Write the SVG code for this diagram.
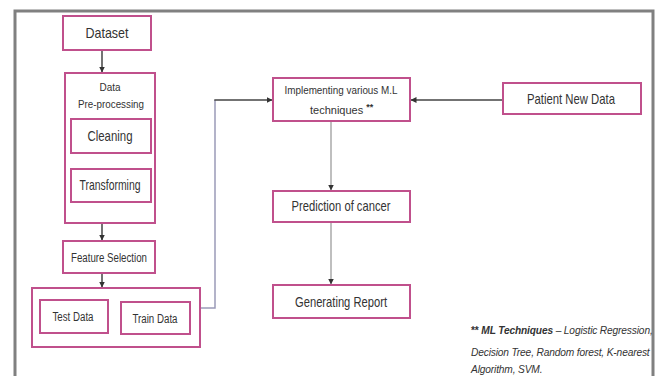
<svg xmlns="http://www.w3.org/2000/svg" width="659" height="376" viewBox="0 0 659 376">
<defs>
<marker id="ah" viewBox="0 0 6 6" refX="5.5" refY="3" markerWidth="4" markerHeight="4" orient="auto">
<path d="M0,0 L6,3 L0,6 z" fill="#333"/>
</marker>
<style>
.box{fill:#fff;stroke:#c0508c;stroke-width:2}
.t{font-family:"Liberation Sans",Arial,sans-serif;fill:#333;text-anchor:middle}
.c{fill:none;stroke-width:1.5;marker-end:url(#ah)}
.fn{font-family:"Liberation Sans",Arial,sans-serif;fill:#333;font-size:10.2px;font-style:italic;letter-spacing:-0.15px}
</style>
</defs>
<rect width="659" height="376" fill="#fff"/>
<path d="M15,376 V11 H653 V376" fill="none" stroke="#808080" stroke-width="3"/>
<g id="connectors">
<path class="c" d="M102,50 V72" stroke="#444"/>
<path class="c" d="M102,223 V240" stroke="#444"/>
<path class="c" d="M102,273 V287" stroke="#444"/>
<path d="M200,308 H215 V100" fill="none" stroke="#9a9ab8" stroke-width="1.5"/>
<path class="c" d="M214.3,100 H272" stroke="#444"/>
<path class="c" d="M503,100 H411" stroke="#444"/>
<path class="c" d="M331,121 V190" stroke="#aaa" stroke-width="2"/>
<path class="c" d="M331,222 V284" stroke="#aaa" stroke-width="2"/>
</g>
<g id="dataset">
<rect class="box" x="63" y="16" width="88" height="34"/>
<text class="t" x="107" y="38" font-size="15" textLength="43" lengthAdjust="spacingAndGlyphs">Dataset</text>
</g>
<g id="preprocessing">
<rect class="box" x="65" y="73" width="90" height="150"/>
<text class="t" x="110" y="91" font-size="11" textLength="21" lengthAdjust="spacingAndGlyphs">Data</text>
<text class="t" x="111" y="108" font-size="11" textLength="66" lengthAdjust="spacingAndGlyphs">Pre-processing</text>
</g>
<g id="cleaning">
<rect class="box" x="71" y="119" width="80" height="34"/>
<text class="t" x="110" y="141" font-size="15" textLength="45" lengthAdjust="spacingAndGlyphs">Cleaning</text>
</g>
<g id="transforming">
<rect class="box" x="71" y="169" width="80" height="33"/>
<text class="t" x="110" y="190" font-size="15" textLength="61" lengthAdjust="spacingAndGlyphs">Transforming</text>
</g>
<g id="feature-selection">
<rect class="box" x="63" y="241" width="92" height="32"/>
<text class="t" x="109" y="262" font-size="12" textLength="76" lengthAdjust="spacingAndGlyphs">Feature Selection</text>
</g>
<g id="split">
<rect class="box" x="32" y="288" width="168" height="59"/>
</g>
<g id="test-data">
<rect class="box" x="40" y="300" width="68" height="33"/>
<text class="t" x="73" y="321" font-size="12" textLength="41" lengthAdjust="spacingAndGlyphs">Test Data</text>
</g>
<g id="train-data">
<rect class="box" x="121" y="302" width="69" height="32"/>
<text class="t" x="155" y="323" font-size="12" textLength="45" lengthAdjust="spacingAndGlyphs">Train Data</text>
</g>
<g id="implementing">
<rect class="box" x="273" y="78" width="137" height="43"/>
<text class="t" x="341" y="94" font-size="11" textLength="113" lengthAdjust="spacingAndGlyphs">Implementing various M.L</text>
<text x="310" y="114" font-family="Liberation Sans,Arial,sans-serif" font-size="11" fill="#333">techniques <tspan font-size="9" font-weight="bold" dy="-4">**</tspan></text>
</g>
<g id="patient-new-data">
<rect class="box" x="503" y="83" width="138" height="31"/>
<text class="t" x="571" y="104" font-size="15" textLength="88" lengthAdjust="spacingAndGlyphs">Patient New Data</text>
</g>
<g id="prediction">
<rect class="box" x="273" y="191" width="137" height="31"/>
<text class="t" x="341" y="211" font-size="15" textLength="99" lengthAdjust="spacingAndGlyphs">Prediction of cancer</text>
</g>
<g id="report">
<rect class="box" x="273" y="285" width="137" height="33"/>
<text class="t" x="341" y="307" font-size="15" textLength="92" lengthAdjust="spacingAndGlyphs">Generating Report</text>
</g>
<g id="footnote">
<text class="fn" x="471" y="334"><tspan font-weight="bold" font-style="normal">**</tspan> <tspan font-weight="bold">ML Techniques</tspan> – Logistic Regression,</text>
<text class="fn" x="471" y="356">Decision Tree, Random forest, K-nearest</text>
<text class="fn" x="471" y="373">Algorithm, SVM.</text>
</g>
</svg>
